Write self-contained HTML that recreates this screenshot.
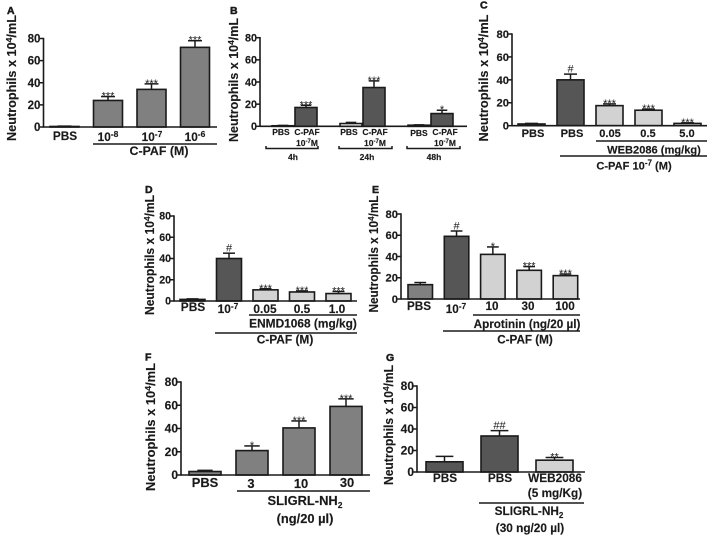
<!DOCTYPE html>
<html lang="en">
<head>
<meta charset="utf-8">
<title>Neutrophil counts panels</title>
<style>
html,body{margin:0;padding:0;background:#fff;width:708px;height:536px;overflow:hidden}
svg{display:block;filter:blur(0.35px)}
text{font-family:"Liberation Sans",sans-serif;font-weight:bold;fill:#1a1a1a;stroke:#1a1a1a;stroke-width:0.15px}
.t{text-anchor:middle}
.ta{font-size:11.8px}
.tc{font-size:11.1px}
.td{font-size:11.9px}
.te{font-size:11.7px}
.tf{font-size:12.9px}
.tg{font-size:11.8px}
.s{font-size:8.5px;text-anchor:middle}
.l{font-size:10.5px;stroke-width:0.5px}
.g{stroke:#1a1a1a;stroke-width:1.5;fill:none}
.y{font-size:12.5px;text-anchor:middle}
</style>
</head>
<body>
<svg id="figure" width="708" height="536" viewBox="0 0 708 536" xmlns="http://www.w3.org/2000/svg">
  <!-- Panel letters -->
  <text class="l" x="7" y="14">A</text>
  <text class="l" x="230" y="14">B</text>
  <text class="l" x="480" y="8.500">C</text>
  <text class="l" x="145" y="193">D</text>
  <text class="l" x="372" y="193">E</text>
  <text class="l" x="145" y="360.500">F</text>
  <text class="l" x="386" y="361">G</text>

  <!-- Y axis titles -->
  <text class="y" transform="translate(16,78) rotate(-90)" textLength="126" lengthAdjust="spacingAndGlyphs">Neutrophils x 10<tspan font-size="8.5" dy="-4">4</tspan><tspan dy="4">/mL</tspan></text>
  <text class="y" transform="translate(238,80) rotate(-90)" textLength="124" lengthAdjust="spacingAndGlyphs">Neutrophils x 10<tspan font-size="8.5" dy="-4">4</tspan><tspan dy="4">/mL</tspan></text>
  <text class="y" transform="translate(488,78) rotate(-90)" textLength="127" lengthAdjust="spacingAndGlyphs">Neutrophils x 10<tspan font-size="8.5" dy="-4">4</tspan><tspan dy="4">/mL</tspan></text>
  <text class="y" transform="translate(154,255) rotate(-90)" textLength="120" lengthAdjust="spacingAndGlyphs">Neutrophils x 10<tspan font-size="8.5" dy="-4">4</tspan><tspan dy="4">/mL</tspan></text>
  <text class="y" transform="translate(378,254) rotate(-90)" textLength="117" lengthAdjust="spacingAndGlyphs">Neutrophils x 10<tspan font-size="8.5" dy="-4">4</tspan><tspan dy="4">/mL</tspan></text>
  <text class="y" transform="translate(155,427) rotate(-90)" textLength="128" lengthAdjust="spacingAndGlyphs">Neutrophils x 10<tspan font-size="8.5" dy="-4">4</tspan><tspan dy="4">/mL</tspan></text>
  <text class="y" transform="translate(393,425) rotate(-90)" textLength="120" lengthAdjust="spacingAndGlyphs">Neutrophils x 10<tspan font-size="8.5" dy="-4">4</tspan><tspan dy="4">/mL</tspan></text>

  <!-- Panel A labels -->
  <text class="t ta" x="65" y="140">PBS</text>
  <text class="t ta" x="108" y="141">10<tspan font-size="8.5" dy="-4">-8</tspan></text>
  <text class="t ta" x="152" y="141">10<tspan font-size="8.5" dy="-4">-7</tspan></text>
  <text class="t ta" x="195" y="141">10<tspan font-size="8.5" dy="-4">-6</tspan></text>
  <line class="g" x1="93" x2="217" y1="144" y2="144"/>
  <text class="t" style="font-size:12.4px" x="159" y="155">C-PAF (M)</text>

  <!-- Panel B labels -->
  <text class="s" x="281" y="135">PBS</text>
  <text class="s" x="307" y="135">C-PAF</text>
  <text class="s" x="307" y="146">10<tspan font-size="6" dy="-3">-7</tspan><tspan dy="3">M</tspan></text>
  <path class="g" d="M266 146V148.500H318V146"/>
  <text class="s" x="293" y="160">4h</text>
  <text class="s" x="349" y="135">PBS</text>
  <text class="s" x="375" y="135">C-PAF</text>
  <text class="s" x="375" y="146">10<tspan font-size="6" dy="-3">-7</tspan><tspan dy="3">M</tspan></text>
  <path class="g" d="M339 146V148.500H392V146"/>
  <text class="s" x="367" y="160">24h</text>
  <text class="s" x="419" y="136">PBS</text>
  <text class="s" x="445" y="135">C-PAF</text>
  <text class="s" x="445" y="146">10<tspan font-size="6" dy="-3">-7</tspan><tspan dy="3">M</tspan></text>
  <path class="g" d="M407 146V148.500H460V146"/>
  <text class="s" x="434" y="160">48h</text>

  <!-- Panel C labels -->
  <text class="t tc" x="533" y="137">PBS</text>
  <text class="t tc" x="572" y="137">PBS</text>
  <text class="t tc" x="610" y="137">0.05</text>
  <text class="t tc" x="648" y="137">0.5</text>
  <text class="t tc" x="687" y="137">5.0</text>
  <line class="g" x1="596" x2="707" y1="141" y2="141"/>
  <text class="t tc" x="654" y="153.500">WEB2086 (mg/kg)</text>
  <line class="g" x1="560" x2="707" y1="156" y2="156"/>
  <text class="t tc" x="634" y="169.500">C-PAF 10<tspan font-size="8" dy="-4">-7</tspan><tspan dy="4"> (M)</tspan></text>

  <!-- Panel D labels -->
  <text class="t td" x="193" y="311">PBS</text>
  <text class="t td" x="228" y="313">10<tspan font-size="8.5" dy="-4">-7</tspan></text>
  <text class="t td" x="265" y="313">0.05</text>
  <text class="t td" x="302" y="313">0.5</text>
  <text class="t td" x="337" y="313">1.0</text>
  <line class="g" x1="249" x2="357" y1="315" y2="315"/>
  <text class="t td" x="303" y="327.500">ENMD1068 (mg/kg)</text>
  <line class="g" x1="215" x2="357" y1="333" y2="333"/>
  <text class="t td" x="285" y="343.500">C-PAF (M)</text>

  <!-- Panel E labels -->
  <text class="t te" x="419" y="310">PBS</text>
  <text class="t te" x="456" y="313">10<tspan font-size="8.5" dy="-4">-7</tspan></text>
  <text class="t te" x="492" y="310">10</text>
  <text class="t te" x="528" y="310">30</text>
  <text class="t te" x="565" y="310">100</text>
  <line class="g" x1="473" x2="580" y1="315" y2="315"/>
  <text class="t te" x="527" y="328">Aprotinin (ng/20 µl)</text>
  <line class="g" x1="443" x2="580" y1="331" y2="331"/>
  <text class="t te" x="525" y="343.500">C-PAF (M)</text>

  <!-- Panel F labels -->
  <text class="t tf" x="205" y="487">PBS</text>
  <text class="t tf" x="251" y="488">3</text>
  <text class="t tf" x="301" y="488">10</text>
  <text class="t tf" x="347" y="487">30</text>
  <line class="g" x1="237" x2="370" y1="491" y2="491"/>
  <text class="t tf" x="305" y="505">SLIGRL-NH<tspan font-size="8.5" dy="3">2</tspan></text>
  <text class="t tf" x="305" y="523">(ng/20 µl)</text>

  <!-- Panel G labels -->
  <text class="t tg" x="445" y="482">PBS</text>
  <text class="t tg" x="500" y="482">PBS</text>
  <text class="t tg" x="555" y="482">WEB2086</text>
  <text class="t tg" x="555" y="497">(5 mg/Kg)</text>
  <line class="g" x1="479" x2="584" y1="503" y2="503"/>
  <text class="t tg" x="529" y="515">SLIGRL-NH<tspan font-size="8" dy="3">2</tspan></text>
  <text class="t tg" x="530" y="532">(30 ng/20 µl)</text>
</svg>

<script>
// Chart data
const yTicks = [0, 20, 40, 60, 80];

const aCategories = ["PBS", "10-8", "10-7", "10-6"];
const aValues = [0.5, 24, 34, 72];
const aErrors = [0.3, 3.5, 5, 6];
const aMarks = ["", "***", "***", "***"];

const bCategories = ["PBS 4h", "C-PAF 4h", "PBS 24h", "C-PAF 24h", "PBS 48h", "C-PAF 48h"];
const bValues = [0.5, 17, 2.5, 35, 1, 11.5];
const bErrors = [0.3, 2, 1, 6, 0.3, 3];
const bMarks = ["", "***", "", "***", "", "*"];

const cCategories = ["PBS", "PBS + C-PAF", "0.05", "0.5", "5.0"];
const cValues = [1.5, 40, 17.5, 13.5, 2];
const cErrors = [0.5, 5, 1.5, 1, 0.5];
const cMarks = ["", "#", "***", "***", "***"];

const dCategories = ["PBS", "10-7", "0.05", "0.5", "1.0"];
const dValues = [1.5, 40, 10.5, 8.5, 7];
const dErrors = [0.5, 5, 1, 1, 2];
const dMarks = ["", "#", "***", "***", "***"];

const eCategories = ["PBS", "10-7", "10", "30", "100"];
const eValues = [13.5, 59, 42, 27, 22];
const eErrors = [2, 5, 7, 3.5, 1.5];
const eMarks = ["", "#", "*", "***", "***"];

const fCategories = ["PBS", "3", "10", "30"];
const fValues = [3, 21, 40.5, 59];
const fErrors = [1, 4, 6, 6.5];
const fMarks = ["", "*", "***", "***"];

const gCategories = ["PBS", "PBS + SLIGRL", "WEB2086"];
const gValues = [9.5, 33.5, 11];
const gErrors = [5, 5, 2.5];
const gMarks = ["", "##", "**"];

const MID = "#808080";
const DARK = "#565656";
const LIGHT = "#d2d2d2";

const panels = [
  {id:"a", cats:aCategories, vals:aValues, errs:aErrors, marks:aMarks, x0:43.5, xEnd:217, y0:127, y80:38.5, start:50, step:0, w:29, group:1, groupStep:43.5, tickSize:11.6, fills:[MID,MID,MID,MID]},
  {id:"b", cats:bCategories, vals:bValues, errs:bErrors, marks:bMarks, x0:260, xEnd:467, y0:126.3, y80:37.7, start:272, step:23, w:22, group:2, groupStep:68, tickSize:10.8, fills:[DARK,DARK,"#fff",DARK,DARK,DARK]},
  {id:"c", cats:cCategories, vals:cValues, errs:cErrors, marks:cMarks, x0:512, xEnd:707, y0:125.7, y80:34, start:518, step:0, w:27, group:1, groupStep:39, tickSize:11.2, fills:[DARK,DARK,LIGHT,LIGHT,LIGHT]},
  {id:"d", cats:dCategories, vals:dValues, errs:dErrors, marks:dMarks, x0:174, xEnd:357, y0:301, y80:216, start:180, step:0, w:25, group:1, groupStep:36.5, tickSize:10.6, fills:[MID,DARK,LIGHT,LIGHT,LIGHT]},
  {id:"e", cats:eCategories, vals:eValues, errs:eErrors, marks:eMarks, x0:401, xEnd:580, y0:299, y80:214, start:408, step:0, w:24.5, group:1, groupStep:36.3, tickSize:11.2, fills:[MID,DARK,LIGHT,LIGHT,LIGHT]},
  {id:"f", cats:fCategories, vals:fValues, errs:fErrors, marks:fMarks, x0:181, xEnd:370, y0:475, y80:382, start:189, step:0, w:32, group:1, groupStep:47, tickSize:12, fills:[MID,MID,MID,MID]},
  {id:"g", cats:gCategories, vals:gValues, errs:gErrors, marks:gMarks, x0:417, xEnd:585, y0:472, y80:386, start:426, step:0, w:37, group:1, groupStep:55, tickSize:12, fills:[DARK,DARK,LIGHT]}
];

const NS = "http://www.w3.org/2000/svg";
const svg = document.getElementById("figure");

function make(tag, attrs) {
  const el = document.createElementNS(NS, tag);
  for (const k in attrs) el.setAttribute(k, attrs[k]);
  svg.appendChild(el);
  return el;
}

function yScale(p, v) {
  return p.y0 - v * (p.y0 - p.y80) / 80;
}

function xBand(p, i) {
  return p.start + p.step * (i % p.group) + p.groupStep * Math.floor(i / p.group);
}

function drawPanel(p) {
  p.vals.forEach(function (v, i) {
    const x = xBand(p, i);
    const top = yScale(p, v);
    const errTop = yScale(p, v + p.errs[i]);
    const cx = x + p.w / 2;
    const capW = p.w * 0.48;

    const stem = make("line", {x1:cx, x2:cx, y1:top, y2:errTop, stroke:"#1a1a1a", "stroke-width":1.5});
    
    

    const cap = make("line", {x1:cx - capW / 2, x2:cx + capW / 2, y1:errTop, y2:errTop, stroke:"#1a1a1a", "stroke-width":1.5});
    
    

    const bar = make("rect", {x:x, y:top, width:p.w, height:p.y0 - top, fill:p.fills[i], stroke:"#1a1a1a", "stroke-width":1.6});
    
    

    if (p.marks[i]) {
      const isHash = p.marks[i].charAt(0) === "#";
      const mark = make("text", {x:cx, y:isHash ? errTop - 1.5 : errTop + 3, "text-anchor":"middle", "font-size":11, style:"font-weight:normal;stroke-width:0"});
      mark.textContent = p.marks[i];
      
      
    }
  });

  const yAxis = make("line", {x1:p.x0, x2:p.x0, y1:p.y80 - 0.7, y2:p.y0 + 0.7, stroke:"#1a1a1a", "stroke-width":1.6});
  
  

  const xAxis = make("line", {x1:p.x0, x2:p.xEnd, y1:p.y0, y2:p.y0, stroke:"#1a1a1a", "stroke-width":1.6});
  
  

  yTicks.forEach(function (t) {
    const y = yScale(p, t);

    const tick = make("line", {x1:p.x0 - 3.5, x2:p.x0, y1:y, y2:y, stroke:"#1a1a1a", "stroke-width":1.5});
    
    

    const label = make("text", {x:p.x0 - 3, y:y + p.tickSize * 0.35, "text-anchor":"end", "font-size":p.tickSize});
    label.textContent = t;
    
    
  });
}

panels.forEach(drawPanel);
</script>
</body>
</html>
